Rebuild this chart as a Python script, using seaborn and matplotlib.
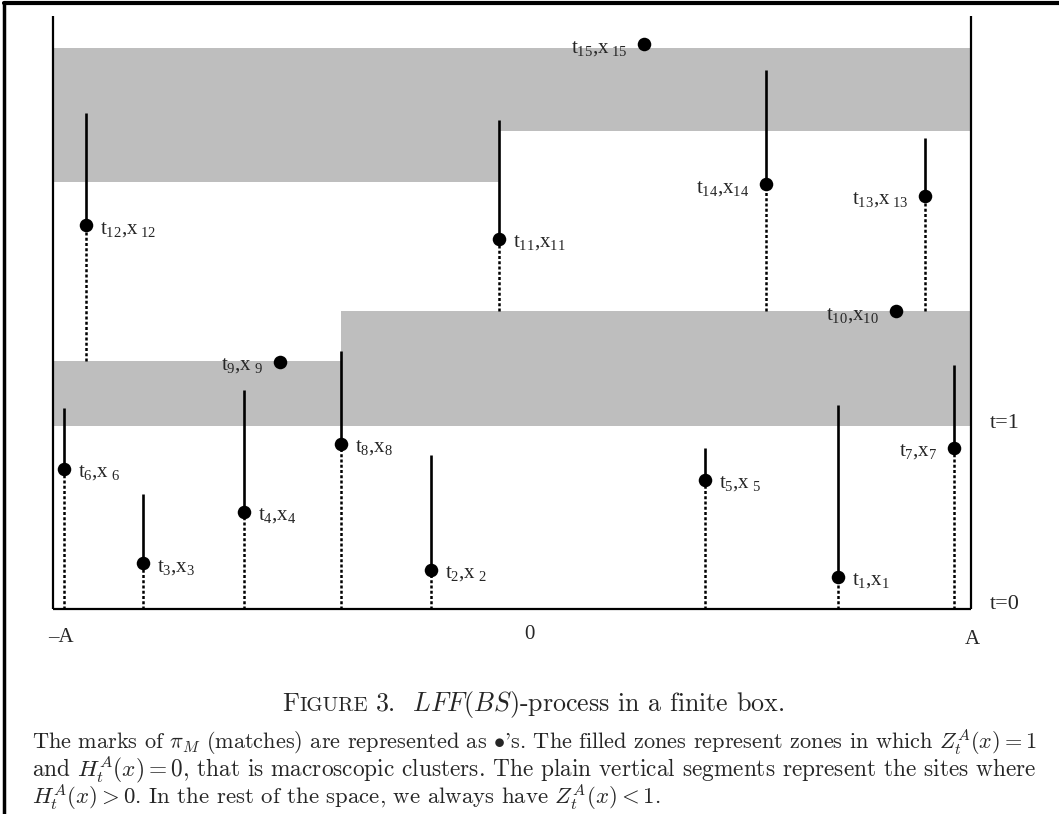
import numpy as np
import pandas as pd
import matplotlib
matplotlib.use("Agg")
import matplotlib.pyplot as plt
import seaborn as sns
from matplotlib.lines import Line2D

# ---------------- data (x in [-A, A] scaled to [-1, 1], t = time) ----------------
match_id = list(range(1, 16))
match_x = [0.710, -0.176, -0.804, -0.584, 0.420, -0.976, 0.963, -0.373,
           -0.505, 0.837, -0.028, -0.929, 0.900, 0.553, 0.288]
match_t = [0.175, 0.213, 0.251, 0.530, 0.705, 0.765, 0.880, 0.902,
           1.350, 1.628, 2.022, 2.098, 2.257, 2.322, 3.087]
burn_top = [1.115, 0.842, 0.628, 1.197, 0.880, 1.098, 1.333, 1.410,
            np.nan, np.nan, 2.672, 2.710, 2.574, 2.945, np.nan]
dash_bottom = [0, 0, 0, 0, 0, 0, 0, 0, np.nan, np.nan, 1.628, 1.355, 1.628, 1.628, np.nan]
label_side = ['r', 'r', 'r', 'r', 'r', 'r', 'l', 'r', 'l', 'l', 'r', 'r', 'l', 'l', 'l']
label_gap = [False, True, False, False, True, True, False, False,
             True, False, False, True, True, False, True]

band_x0 = [-1.0, -0.373, -1.0, -0.028]
band_x1 = [-0.373, 1.0, -0.028, 1.0]
band_t0 = [1.000, 1.000, 2.333, 2.612]
band_t1 = [1.355, 1.628, 3.066, 3.066]

box_top = 3.240
axis_labels = ["\u2013A", "0", "A"]
time_labels = ["t=1", "t=0"]

title_parts = ["F", "IGURE", r"3.  $LFF(BS)$-process in a finite box."]
caption_lines = [
    r"The marks of $\pi_M$ (matches) are represented as $\bullet$'s. The filled zones represent zones in which $Z_t^A(x) = 1$",
    r"and $H_t^A(x) = 0$, that is macroscopic clusters. The plain vertical segments represent the sites where",
    r"$H_t^A(x) > 0$. In the rest of the space, we always have $Z_t^A(x) < 1$.",
]

# ---------------- style ----------------
sns.set_theme(style="white")
plt.rcParams["font.family"] = ["Liberation Serif", "DejaVu Serif"]
plt.rcParams["mathtext.fontset"] = "custom"
plt.rcParams["mathtext.rm"] = "Liberation Serif"
plt.rcParams["mathtext.it"] = "Liberation Serif:italic"
plt.rcParams["mathtext.bf"] = "Liberation Serif:bold"

W, H = 1059, 814
fig = plt.figure(figsize=(W / 100, H / 100), dpi=100)
ax = fig.add_axes([0, 0, 1, 1])
XL = (-512 / 459, (W - 512) / 459)
YL = ((609 - H) / 183, 609 / 183)

gray = "#bebebe"
for x0, x1, t0, t1 in zip(band_x0, band_x1, band_t0, band_t1):
    ax.fill_between([x0, x1], t0, t1, color=gray, lw=0, zorder=1)

# box axes
ax.plot([-1, -1], [0, box_top], color="black", lw=1.6, zorder=2, solid_capstyle="butt")
ax.plot([1, 1], [0, box_top], color="black", lw=1.6, zorder=2, solid_capstyle="butt")
ax.plot([-1, 1], [0, 0], color="black", lw=1.6, zorder=2, solid_capstyle="butt")

df = pd.DataFrame({"id": match_id, "x": match_x, "t": match_t, "top": burn_top,
                   "dash": dash_bottom, "side": label_side, "gap": label_gap})

seg = df.dropna(subset=["top"])
ax.vlines(seg["x"], seg["t"], seg["top"], color="black", lw=1.9, zorder=2)
dsh = df.dropna(subset=["dash"])
ax.vlines(dsh["x"], dsh["dash"], dsh["t"], color="black", lw=1.8,
          linestyles=(0, (1.2, 0.9)), zorder=2)

sns.scatterplot(data=df, x="x", y="t", color="black", s=95, edgecolor="black",
                linewidth=0, zorder=3, ax=ax, legend=False)
ax.set_xlabel("")
ax.set_ylabel("")
ax.set_xlim(*XL)
ax.set_ylim(*YL)
ax.axis("off")

for _, r in df.iterrows():
    i = int(r["id"])
    sp = r"\,\," if r["gap"] else ""
    lab = r"$\mathrm{t}_{\mathrm{%d}}{,}\mathrm{x}_{%s\mathrm{%d}}$" % (i, sp, i)
    if r["side"] == "r":
        ax.annotate(lab, (r["x"], r["t"]), xytext=(14, -8), textcoords="offset pixels",
                    ha="left", va="baseline", fontsize=15, zorder=4)
    else:
        ax.annotate(lab, (r["x"], r["t"]), xytext=(-17, -8), textcoords="offset pixels",
                    ha="right", va="baseline", fontsize=15, zorder=4)

# axis labels
ax.text(-0.983, -0.180, axis_labels[0], ha="center", va="baseline", fontsize=15)
ax.text(0.039, -0.164, axis_labels[1], ha="center", va="baseline", fontsize=15)
ax.text(1.004, -0.191, axis_labels[2], ha="center", va="baseline", fontsize=15)
ax.text(1.041, 1.016, time_labels[0], ha="left", va="center", fontsize=16)
ax.text(1.041, 0.022, time_labels[1], ha="left", va="center", fontsize=16)

# page frame (top and left rules)
fig.add_artist(Line2D([4 / W, 1], [1 - 3 / H, 1 - 3 / H], transform=fig.transFigure,
                      color="black", lw=3))
fig.add_artist(Line2D([4 / W, 4 / W], [0, 1 - 3 / H], transform=fig.transFigure,
                      color="black", lw=2.5))

# ---------------- caption ----------------
cap_font = "cmr10"
title_fs = 15.0
yb = 1 - 711 / H
t1 = ax.text(280 / W, yb, title_parts[0], transform=fig.transFigure, ha="left",
             va="baseline", fontsize=title_fs, family=cap_font, math_fontfamily="cm")
t2 = ax.annotate(title_parts[1], xy=(1, yb), xycoords=(t1, "figure fraction"),
                 xytext=(0.5, 0), textcoords="offset pixels",
                 ha="left", va="baseline", fontsize=title_fs * 0.8, family=cap_font,
                 annotation_clip=False)
t3 = ax.annotate(title_parts[2], xy=(1, yb),
                 xycoords=(t2, "figure fraction"), xytext=(7, 0), textcoords="offset pixels",
                 ha="left", va="baseline", fontsize=title_fs, family=cap_font,
                 math_fontfamily="cm", annotation_clip=False)

cap_left, cap_right = 32, 1037
base_fs = 16.0
body = []
for k, line in enumerate(caption_lines):
    body.append(ax.text(cap_left / W, 1 - (749 + 27.5 * k) / H, line,
                        transform=fig.transFigure, ha="left", va="baseline",
                        fontsize=base_fs, family=cap_font, math_fontfamily="cm"))

fig.canvas.draw()
rend = fig.canvas.get_renderer()
# fit justified lines to the text width
scales = []
for tx in body[:2]:
    bb = tx.get_window_extent(rend)
    scales.append((cap_right - cap_left) / bb.width)
for tx, s in zip(body, scales + [np.mean(scales)]):
    tx.set_fontsize(base_fs * s)
# centre the title around x = 533 with width ~505 px
bb1 = t1.get_window_extent(rend)
bb3 = t3.get_window_extent(rend)
tw = bb3.x1 - bb1.x0
ts = 505 / tw
t1.set_fontsize(title_fs * ts)
t2.set_fontsize(title_fs * 0.8 * ts)
t3.set_fontsize(title_fs * ts)
fig.canvas.draw()
bb1 = t1.get_window_extent(rend)
bb3 = t3.get_window_extent(rend)
tw = bb3.x1 - bb1.x0
t1.set_x((533 - tw / 2) / W)

fig.savefig("out.png", dpi=100)
